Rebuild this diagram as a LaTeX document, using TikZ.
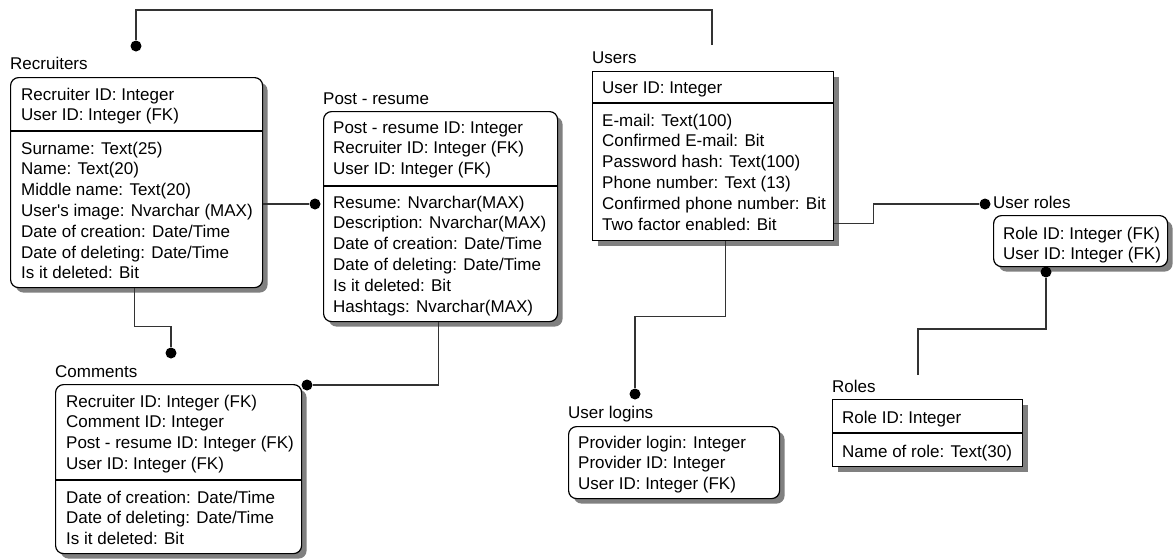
\documentclass[tikz,border=0pt]{standalone}
\usepackage{fontspec}
\setmainfont{Liberation Sans}
\usetikzlibrary{shadows,calc}
\newcommand\erfont{\fontsize{17}{20.8}\selectfont}
\tikzset{
  ent/.style={draw=black, line width=1.2pt, fill=white, inner sep=0pt, anchor=north west,
    drop shadow={shadow xshift=5pt, shadow yshift=-5pt, fill=black!50, opacity=1}},
  depent/.style={ent, rounded corners=8pt},
  sep/.style={draw=black, line width=1.1pt},
  fld/.style={anchor=base west, inner sep=0pt, font=\erfont, text=black},
  ttl/.style={anchor=base west, inner sep=0pt, font=\erfont, text=black},
  link/.style={draw=black!80, line width=1.4pt},
  jdot/.style={circle, fill=black, draw=none, inner sep=0pt, minimum size=11pt}
}
\begin{document}
\begin{tikzpicture}[x=1pt, y=-1pt]
\useasboundingbox (0,0) rectangle (1174,558);

% ---------- Recruiters ----------
\node[ttl] (rec-t) at (10,69) {Recruiters};
\node[depent, minimum width=252pt, minimum height=210pt] (rec) at (10,77) {};
\draw[sep] (10,131) -- (262,131);
\foreach \t [count=\i from 0] in {Recruiter ID: Integer, User ID: Integer (FK)}
  \node[fld] (rec-k\i) at (21,{100+20.8*\i}) {\t};
\foreach \t [count=\i from 0] in {Surname: Text(25), Name: Text(20), Middle name: Text(20),
    User\textquotesingle s image: Nvarchar (MAX), Date of creation: Date/Time,
    Date of deleting: Date/Time, Is it deleted: Bit}
  \node[fld] (rec-a\i) at (21,{154+20.8*\i}) {\t};

% ---------- Post - resume ----------
\node[ttl] (post-t) at (323,104) {Post - resume};
\node[depent, minimum width=234pt, minimum height=210pt] (post) at (323,111) {};
\draw[sep] (323,186) -- (557,186);
\foreach \t [count=\i from 0] in {Post - resume ID: Integer, Recruiter ID: Integer (FK),
    User ID: Integer (FK)}
  \node[fld] (post-k\i) at (333,{133+20.8*\i}) {\t};
\foreach \t [count=\i from 0] in {Resume: Nvarchar(MAX), Description: Nvarchar(MAX),
    Date of creation: Date/Time, Date of deleting: Date/Time, Is it deleted: Bit,
    Hashtags: Nvarchar(MAX)}
  \node[fld] (post-a\i) at (333,{208+20.8*\i}) {\t};

% ---------- Users ----------
\node[ttl] (users-t) at (592,63) {Users};
\node[ent, minimum width=241pt, minimum height=169pt] (users) at (592,71) {};
\draw[sep] (592,103) -- (833,103);
\node[fld] (users-k0) at (602,93) {User ID: Integer};
\foreach \t [count=\i from 0] in {E-mail: Text(100), Confirmed E-mail: Bit,
    Password hash: Text(100), Phone number: Text (13), Confirmed phone number: Bit,
    Two factor enabled: Bit}
  \node[fld] (users-a\i) at (602,{126+20.8*\i}) {\t};

% ---------- Comments ----------
\node[ttl] (com-t) at (55,377) {Comments};
\node[depent, minimum width=246pt, minimum height=169pt] (com) at (55,384) {};
\draw[sep] (55,480) -- (301,480);
\foreach \t [count=\i from 0] in {Recruiter ID: Integer (FK), Comment ID: Integer,
    Post - resume ID: Integer (FK), User ID: Integer (FK)}
  \node[fld] (com-k\i) at (66,{407+20.8*\i}) {\t};
\foreach \t [count=\i from 0] in {Date of creation: Date/Time, Date of deleting: Date/Time,
    Is it deleted: Bit}
  \node[fld] (com-a\i) at (66,{503+20.8*\i}) {\t};

% ---------- User logins ----------
\node[ttl] (log-t) at (568,418) {User logins};
\node[depent, minimum width=211pt, minimum height=72pt] (log) at (568,426) {};
\foreach \t [count=\i from 0] in {Provider login: Integer, Provider ID: Integer,
    User ID: Integer (FK)}
  \node[fld] (log-k\i) at (578,{448+20.8*\i}) {\t};

% ---------- User roles ----------
\node[ttl] (ur-t) at (993,208) {User roles};
\node[depent, minimum width=174pt, minimum height=51pt] (ur) at (993,215) {};
\foreach \t [count=\i from 0] in {Role ID: Integer (FK), User ID: Integer (FK)}
  \node[fld] (ur-k\i) at (1003,{239+20.8*\i}) {\t};

% ---------- Roles ----------
\node[ttl] (roles-t) at (832,392) {Roles};
\node[ent, minimum width=190pt, minimum height=67pt] (roles) at (832,399) {};
\draw[sep] (832,433) -- (1022,433);
\node[fld] (roles-k0) at (842,423) {Role ID: Integer};
\node[fld] (roles-a0) at (842,457) {Name of role: Text(30)};

% ---------- relationship ends ----------
\node[jdot] (d-rec)   at (136,46)  {};
\node[jdot] (d-post)  at (315,204) {};
\node[jdot] (d-com1)  at (171,353) {};
\node[jdot] (d-com2)  at (307,385) {};
\node[jdot] (d-log)   at (635,394) {};
\node[jdot] (d-ur1)   at (985,204) {};
\node[jdot] (d-ur2)   at (1046,272) {};
\coordinate (u-top)   at (712,45);
\coordinate (r-top)   at (918,375);

% ---------- relationships ----------
\draw[link] (u-top) -- ++(0,-35) -| (d-rec);
\draw[link] (rec.east |- d-post) -- (d-post);
\draw[link] ([xshift=-2pt]rec.south) -- ++(0,38) -| (d-com1);
\draw[link] ([xshift=-2pt]post.south) |- (d-com2);
\draw[link] ([xshift=12.5pt]users.south) -- ++(0,75) -| (d-log);
\draw[link] ($(users.south east)+(0,-18)$) -- ++(39,0) |- (d-ur1);
\draw[link] (d-ur2) -- ++(0,57) -| (r-top);
\end{tikzpicture}
\end{document}
